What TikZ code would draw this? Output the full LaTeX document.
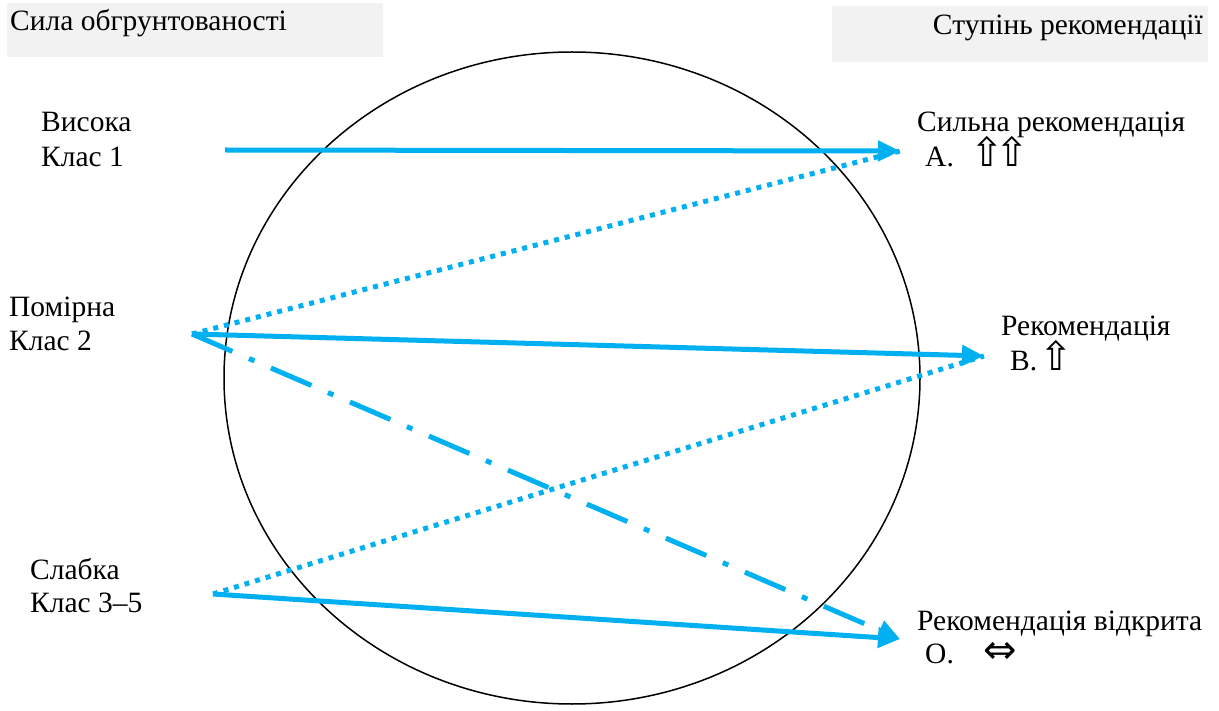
\documentclass[tikz,border=0pt]{standalone}
\usepackage{fontspec}
\setmainfont{Liberation Serif}
\newfontfamily\symfont{DejaVu Sans}
\usetikzlibrary{arrows.meta,positioning}
\definecolor{flow}{HTML}{00B0F0}
\definecolor{headgray}{HTML}{F2F2F2}
\tikzset{x=1pt,y=-1pt,
  every node/.style={font=\rmfamily\fontsize{29.5}{34}\selectfont,inner sep=0pt},
  headbox/.style={fill=headgray,draw=none},
  lbl/.style={anchor=base west,align=left},
  link/.style={draw=flow,line width=5pt,-{Triangle[length=22pt,width=20pt]}},
  hint/.style={draw=flow,line width=5pt,dash pattern=on 5pt off 6pt},
  hintdash/.style={draw=flow,line width=5pt,dash pattern=on 44pt off 18pt on 6pt off 18pt,
    -{Triangle[length=22pt,width=20pt]}}}
\newcommand{\upar}{{\symfont\fontsize{40}{34}\selectfont\char"21E7}}
\newcommand{\bothar}{{\symfont\fontsize{40}{34}\selectfont\char"21D4}}

\begin{document}
\begin{tikzpicture}
\useasboundingbox (0,0) rectangle (1219,711);
% headers
\fill[headbox] (7,3) rectangle (383,57);
\fill[headbox] (832,6) rectangle (1208,62);
\node[lbl] (evid) at (10,31) {Сила обгрунтованості};
\node[anchor=base east] (grade) at (1203,35) {Ступінь рекомендації};
\draw[line width=1.5pt] (572,378) ellipse (348 and 326);
% quality levels
\node[lbl] (high) at (41,132) {Висока};
\node[lbl] (high2) at (41,167) {Клас 1};
\node[lbl] (mod) at (9,317) {Помірна};
\node[lbl] (mod2) at (9,351) {Клас 2};
\node[lbl] (low) at (30,579) {Слабка};
\node[lbl] (low2) at (30,612) {Клас 3–5};
% recommendation grades
\node[lbl] (strong) at (917,132) {Сильна рекомендація};
\node[lbl] (strong2) at (925,167) {А.\hspace{17pt}\upar\hspace{-9pt}\upar};
\node[lbl] (weak) at (1001,336) {Рекомендація};
\node[lbl] (weak2) at (1010,371) {В.\hspace{2pt}\upar};
\node[lbl] (open) at (917,630) {Рекомендація відкрита};
\node[lbl] (open2) at (925,663) {О.\hspace{30pt}\bothar};
% connectors
\coordinate (hiS) at (225,150);
\coordinate (modS) at (192,334);
\coordinate (lowS) at (213,594);
\coordinate (tipA) at (900,151);
\coordinate (tipB) at (984,356);
\coordinate (tipO) at (900,639);
\draw[hint] (modS) -- (tipA);
\draw[hint] (lowS) -- (tipB);
\draw[link] (hiS) -- (tipA);
\draw[link] (modS) -- (tipB);
\draw[hintdash] (modS) -- (tipO);
\draw[link] (lowS) -- (tipO);
\end{tikzpicture}
\end{document}
